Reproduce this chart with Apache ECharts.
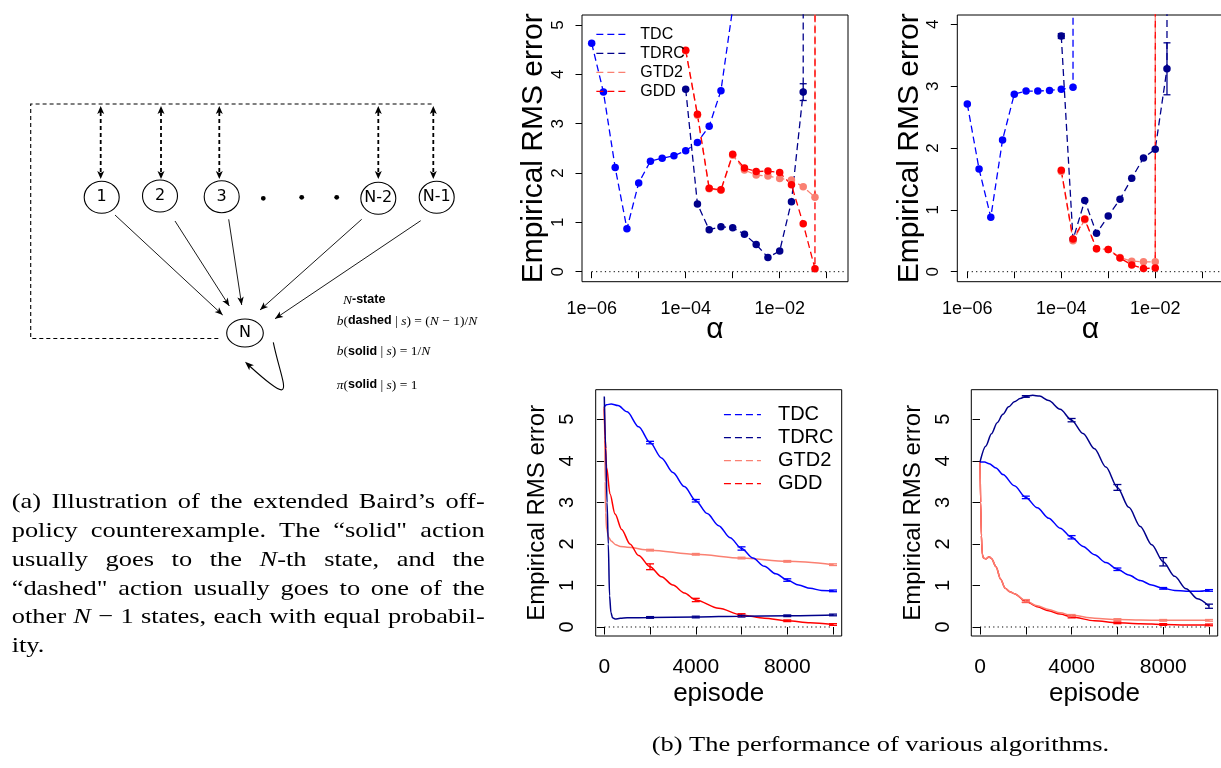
<!DOCTYPE html>
<html>
<head>
<meta charset="utf-8">
<script src="https://cdn.jsdelivr.net/npm/echarts@6/dist/echarts.min.js"></script>
<style>
html, body { margin: 0; padding: 0; background: #fff; }
#main { width: 1221px; height: 768px; }
</style>
</head>
<body>
<div id="main"></div>
<script>
// ---- data ----
// top panels: x is log10(alpha)
var tlTdcA = [-6, -5.75, -5.5, -5.25, -5, -4.75, -4.5, -4.25, -4, -3.75, -3.5, -3.25, -3];
var tlTdc = [4.63, 3.64, 2.11, 0.87, 1.80, 2.24, 2.30, 2.35, 2.45, 2.62, 2.95, 3.67, 5.34];
var tlTdrcA = [-4, -3.75, -3.5, -3.25, -3, -2.75, -2.5, -2.25, -2, -1.75, -1.5, -1.25];
var tlTdrc = [3.70, 1.37, 0.85, 0.91, 0.89, 0.76, 0.55, 0.29, 0.42, 1.42, 3.64, 1000];
var tlGradA = [-4, -3.75, -3.5, -3.25, -3, -2.75, -2.5, -2.25, -2, -1.75, -1.5, -1.25, -1];
var tlGtd2 = [4.48, 3.17, 1.68, 1.65, 2.36, 2.06, 1.96, 1.94, 1.89, 1.86, 1.72, 1.51, 1000];
var tlGdd = [4.49, 3.19, 1.69, 1.66, 2.38, 2.10, 2.03, 2.04, 2.01, 1.76, 0.97, 0.06, 1000];
var tlErrA = [-1.5];
var tlErrTdrc = [0.17];

var trTdcA = [-6, -5.75, -5.5, -5.25, -5, -4.75, -4.5, -4.25, -4, -3.75, -3.5];
var trTdc = [2.71, 1.66, 0.88, 2.13, 2.87, 2.92, 2.92, 2.93, 2.95, 2.98, 1000];
var trTdrcA = [-4, -3.75, -3.5, -3.25, -3, -2.75, -2.5, -2.25, -2, -1.75, -1.5];
var trTdrc = [3.81, 0.52, 1.15, 0.62, 0.90, 1.17, 1.51, 1.84, 1.98, 3.28, 1000];
var trGradA = [-4, -3.75, -3.5, -3.25, -3, -2.75, -2.5, -2.25, -2, -1.75];
var trGtd2 = [1.62, 0.50, 0.84, 0.37, 0.36, 0.23, 0.17, 0.16, 0.16, 1000];
var trGdd = [1.64, 0.53, 0.85, 0.37, 0.36, 0.22, 0.11, 0.05, 0.06, 1000];
var trErrA = [-4, -1.75];
var trErrTdrc = [0.04, 0.42];

var zeroTop = [-6, -0.6];
var alphaTicks = [-6, -1, 1];

// bottom panels: x is episode
var blTdcEp = [0, 100, 300, 600, 1000, 1500, 2000, 2500, 3000, 3500, 4000, 4500, 5000, 5500, 6000, 6500, 7000, 7500, 8000, 8500, 9000, 9500, 10000];
var blTdc = [5.30, 5.35, 5.37, 5.33, 5.18, 4.82, 4.44, 4.07, 3.72, 3.38, 3.04, 2.73, 2.44, 2.15, 1.89, 1.66, 1.46, 1.28, 1.13, 1.01, 0.93, 0.88, 0.87];
var blTdrcEp = [0, 60, 120, 175, 230, 290, 360, 470, 700, 1000, 2000, 4000, 6000, 8000, 10000];
var blTdrc = [5.55, 4.30, 3.00, 2.00, 0.75, 0.35, 0.22, 0.19, 0.21, 0.22, 0.23, 0.24, 0.26, 0.27, 0.29];
var blGtd2Ep = [0, 20, 40, 60, 100, 200, 300, 500, 700, 1000, 2000, 4000, 6000, 8000, 10000];
var blGtd2 = [5.25, 4.50, 3.50, 2.75, 2.35, 2.15, 2.07, 1.98, 1.94, 1.92, 1.85, 1.75, 1.66, 1.58, 1.50];
var blGddEp = [0, 30, 100, 250, 470, 760, 1120, 1500, 2000, 2500, 3000, 3500, 4000, 5000, 6000, 7000, 8000, 9000, 10000];
var blGdd = [5.30, 4.60, 3.85, 3.20, 2.72, 2.35, 2.00, 1.72, 1.45, 1.21, 1.01, 0.82, 0.65, 0.45, 0.29, 0.21, 0.15, 0.10, 0.06];

var brTdrcEp = [0, 250, 500, 750, 1000, 1250, 1500, 1750, 2000, 2300, 2600, 3000, 3500, 4000, 4500, 5000, 5500, 6000, 6500, 7000, 7500, 8000, 8500, 9000, 9500, 10000];
var brTdrc = [3.97, 4.35, 4.65, 4.92, 5.12, 5.30, 5.42, 5.50, 5.55, 5.58, 5.56, 5.45, 5.24, 4.98, 4.66, 4.29, 3.85, 3.36, 2.88, 2.42, 1.98, 1.57, 1.22, 0.92, 0.68, 0.50];
var brTdcEp = [0, 200, 400, 700, 1000, 1500, 2000, 2500, 3000, 3500, 4000, 4500, 5000, 5500, 6000, 6500, 7000, 7500, 8000, 8500, 9000, 9500, 10000];
var brTdc = [3.97, 3.97, 3.93, 3.83, 3.67, 3.40, 3.12, 2.87, 2.62, 2.38, 2.16, 1.94, 1.74, 1.55, 1.39, 1.25, 1.12, 1.01, 0.93, 0.88, 0.86, 0.86, 0.88];
var brGradEp = [0, 30, 60, 100, 150, 250, 400, 500, 700, 900, 1100, 1300, 1500, 2000, 2500, 3000, 3500, 4000, 5000, 6000, 7000, 8000, 9000, 10000];
var brGtd2 = [3.97, 3.00, 2.20, 1.75, 1.66, 1.64, 1.69, 1.65, 1.45, 1.15, 0.93, 0.85, 0.80, 0.63, 0.51, 0.42, 0.34, 0.28, 0.21, 0.18, 0.17, 0.16, 0.16, 0.16];
var brGdd = [3.97, 3.00, 2.20, 1.75, 1.66, 1.64, 1.69, 1.65, 1.45, 1.15, 0.93, 0.85, 0.80, 0.62, 0.49, 0.39, 0.31, 0.24, 0.15, 0.10, 0.08, 0.06, 0.05, 0.05];

var errEp = [2000, 4000, 6000, 8000, 10000];
var blErrTdc = [0.03, 0.03, 0.04, 0.03, 0.02];
var blErrTdrc = [0.02, 0.02, 0.02, 0.02, 0.02];
var blErrGtd2 = [0.02, 0.02, 0.02, 0.02, 0.02];
var blErrGdd = [0.07, 0.04, 0.03, 0.02, 0.02];
var brErrTdc = [0.03, 0.04, 0.03, 0.02, 0.02];
var brErrTdrc = [0.02, 0.04, 0.07, 0.10, 0.05];
var brErrGtd2 = [0.03, 0.02, 0.02, 0.02, 0.02];
var brErrGdd = [0.03, 0.02, 0.02, 0.02, 0.02];

var zeroBottom = [0, 10000];
var episodeTicks = [0, 10000, 2000];

var names = ['TDC', 'TDRC', 'GTD2', 'GDD'];
var colors = { TDC: '#0000FF', TDRC: '#00008B', GTD2: '#FA8072', GDD: '#FF0000' };

var FONT = 'Liberation Sans';
var SERIF = 'Liberation Serif';

// ---- helpers ----
function pairs(xs, ys) {
	return xs.map(function(x, i) { return [x, ys[i]]; });
}

function dotSeries(name, ax, xs, ys) {
	return {
		name: name, type: 'line', xAxisIndex: ax, yAxisIndex: ax,
		data: pairs(xs, ys), clip: true,
		symbol: 'circle', symbolSize: 7.5,
		itemStyle: { color: colors[name], borderWidth: 0 },
		lineStyle: { color: colors[name], width: 1.3, type: [7, 4] },
		emphasis: { disabled: true }, z: 3
	};
}

function curveSeries(name, ax, xs, ys) {
	return {
		name: name, type: 'line', xAxisIndex: ax, yAxisIndex: ax,
		data: pairs(xs, ys), clip: true, smooth: 0.3, smoothMonotone: 'x',
		symbol: 'none',
		itemStyle: { color: colors[name] },
		lineStyle: { color: colors[name], width: 1.5 },
		emphasis: { disabled: true }, z: 3
	};
}

function zeroSeries(ax, xs) {
	return {
		type: 'line', xAxisIndex: ax, yAxisIndex: ax, symbol: 'none', silent: true,
		data: pairs(xs, [0, 0]),
		lineStyle: { color: '#000', width: 1, type: [1.2, 3.2] }, z: 2
	};
}

// error bars, centred on the curve value at that x
function errSeries(name, ax, curveX, curveY, xs, half, cap) {
	var col = colors[name];
	return {
		type: 'custom', xAxisIndex: ax, yAxisIndex: ax, silent: true, z: 4,
		data: xs.map(function(x, i) {
			var m = curveY[curveX.indexOf(x)];
			return [x, m - half[i], m + half[i]];
		}),
		renderItem: function(params, api) {
			var lo = api.coord([api.value(0), api.value(1)]);
			var hi = api.coord([api.value(0), api.value(2)]);
			var st = { stroke: col, lineWidth: 1.3, fill: null };
			return {
				type: 'group',
				children: [
					{ type: 'line', shape: { x1: lo[0], y1: lo[1], x2: hi[0], y2: hi[1] }, style: st },
					{ type: 'line', shape: { x1: lo[0] - cap, y1: lo[1], x2: lo[0] + cap, y2: lo[1] }, style: st },
					{ type: 'line', shape: { x1: hi[0] - cap, y1: hi[1], x2: hi[0] + cap, y2: hi[1] }, style: st }
				]
			};
		}
	};
}

function fmtAlpha(v) {
	if (Math.round(v) % 2 !== 0) return '';
	return '1e\u22120' + Math.abs(Math.round(v));
}
function fmtEp(v) {
	return v % 4000 === 0 ? String(v) : '';
}

// ---- panel layout (pixels) ----
var panels = [
	{ box: [582, 15, 266, 266.7], xr: [-6.206, -0.547], yr: [-0.203, 5.203],
	  car: [591.7, 25, 235, 246.7], xt: alphaTicks, yt: [0, 5, 1],
	  xName: 'α', xNameGap: 33, xNameSize: 30, yNameSize: 30, yNameGap: 33,
	  xFmt: fmtAlpha, xLab: 18, xMargin: 18, yLab: 17, yMargin: 15, tick: 6.5 },
	{ box: [957.3, 15, 266.2, 266.7], xr: [-6.213, -0.547], yr: [-0.162, 4.15],
	  car: [967.3, 24.3, 235, 247.4], xt: alphaTicks, yt: [0, 4, 1],
	  xName: 'α', xNameGap: 33, xNameSize: 30, yNameSize: 30, yNameGap: 33,
	  xFmt: fmtAlpha, xLab: 18, xMargin: 18, yLab: 17, yMargin: 15, tick: 6.5 },
	{ box: [595.7, 389.7, 246, 246.3], xr: [-376, 10380], yr: [-0.217, 5.713],
	  car: [604.3, 419.3, 228.7, 207.7], xt: episodeTicks, yt: [0, 5, 1],
	  xName: 'episode', xNameGap: 45, xNameSize: 26, yNameSize: 24, yNameGap: 46,
	  xFmt: fmtEp, xLab: 21, xMargin: 21, yLab: 20, yMargin: 18, tick: 7.5 },
	{ box: [971.3, 389.7, 246.4, 246.3], xr: [-380, 10380], yr: [-0.217, 5.713],
	  car: [980, 419.3, 229, 207.7], xt: episodeTicks, yt: [0, 5, 1],
	  xName: 'episode', xNameGap: 45, xNameSize: 26, yNameSize: 24, yNameGap: 46,
	  xFmt: fmtEp, xLab: 21, xMargin: 21, yLab: 20, yMargin: 18, tick: 7.5 }
];

var option = {
	animation: false,
	backgroundColor: '#fff',
	textStyle: { fontFamily: FONT, color: '#000' },
	grid: [], xAxis: [], yAxis: [], series: []
};

panels.forEach(function(p, k) {
	var gb = 2 * k, gc = 2 * k + 1;
	option.grid.push({ left: p.box[0], top: p.box[1], width: p.box[2], height: p.box[3],
		show: true, borderColor: '#000', borderWidth: 1, backgroundColor: 'transparent',
		containLabel: false, outerBoundsMode: 'none' });
	option.grid.push({ left: p.car[0], top: p.car[1], width: p.car[2], height: p.car[3],
		show: false, containLabel: false, outerBoundsMode: 'none' });
	var offX = (p.box[1] + p.box[3]) - (p.car[1] + p.car[3]);
	var offY = p.car[0] - p.box[0];
	var hidden = { axisLine: { show: false }, axisTick: { show: false }, axisLabel: { show: false }, splitLine: { show: false } };
	option.xAxis.push(Object.assign({ gridIndex: gb, type: 'value', min: p.xr[0], max: p.xr[1],
		name: p.xName, nameLocation: 'middle', nameGap: p.xNameGap,
		nameTextStyle: { fontSize: p.xNameSize, color: '#000', fontFamily: FONT } }, hidden));
	option.yAxis.push(Object.assign({ gridIndex: gb, type: 'value', min: p.yr[0], max: p.yr[1],
		name: 'Empirical RMS error', nameLocation: 'middle', nameGap: p.yNameGap,
		nameTextStyle: { fontSize: p.yNameSize, color: '#000', fontFamily: FONT } }, hidden));
	option.xAxis.push({ gridIndex: gc, type: 'value', min: p.xt[0], max: p.xt[1], interval: p.xt[2],
		position: 'bottom', offset: offX,
		axisLine: { show: false },
		axisTick: { show: true, inside: false, length: p.tick, lineStyle: { color: '#000', width: 1 } },
		axisLabel: { formatter: p.xFmt, fontSize: p.xLab, margin: p.xMargin, color: '#000', fontFamily: FONT },
		splitLine: { show: false } });
	option.yAxis.push({ gridIndex: gc, type: 'value', min: p.yt[0], max: p.yt[1], interval: p.yt[2],
		position: 'left', offset: offY,
		axisLine: { show: false },
		axisTick: { show: true, inside: false, length: p.tick, lineStyle: { color: '#000', width: 1 } },
		axisLabel: { rotate: 90, fontSize: p.yLab, margin: p.yMargin, color: '#000', fontFamily: FONT },
		splitLine: { show: false } });
});

// top-left
option.series.push(
	zeroSeries(0, zeroTop),
	dotSeries('TDC', 0, tlTdcA, tlTdc),
	dotSeries('TDRC', 0, tlTdrcA, tlTdrc),
	dotSeries('GTD2', 0, tlGradA, tlGtd2),
	dotSeries('GDD', 0, tlGradA, tlGdd),
	errSeries('TDRC', 0, tlTdrcA, tlTdrc, tlErrA, tlErrTdrc, 3.5)
);
// top-right
option.series.push(
	zeroSeries(2, zeroTop),
	dotSeries('TDC', 2, trTdcA, trTdc),
	dotSeries('TDRC', 2, trTdrcA, trTdrc),
	dotSeries('GTD2', 2, trGradA, trGtd2),
	dotSeries('GDD', 2, trGradA, trGdd),
	errSeries('TDRC', 2, trTdrcA, trTdrc, trErrA, trErrTdrc, 3.5)
);
// bottom-left
option.series.push(
	zeroSeries(4, zeroBottom),
	curveSeries('GTD2', 4, blGtd2Ep, blGtd2),
	curveSeries('GDD', 4, blGddEp, blGdd),
	curveSeries('TDC', 4, blTdcEp, blTdc),
	curveSeries('TDRC', 4, blTdrcEp, blTdrc),
	errSeries('GTD2', 4, blGtd2Ep, blGtd2, errEp, blErrGtd2, 4),
	errSeries('GDD', 4, blGddEp, blGdd, errEp, blErrGdd, 4),
	errSeries('TDC', 4, blTdcEp, blTdc, errEp, blErrTdc, 4),
	errSeries('TDRC', 4, blTdrcEp, blTdrc, errEp, blErrTdrc, 4)
);
// bottom-right
option.series.push(
	zeroSeries(6, zeroBottom),
	curveSeries('GDD', 6, brGradEp, brGdd),
	curveSeries('GTD2', 6, brGradEp, brGtd2),
	curveSeries('TDC', 6, brTdcEp, brTdc),
	curveSeries('TDRC', 6, brTdrcEp, brTdrc),
	errSeries('GDD', 6, brGradEp, brGdd, errEp, brErrGdd, 4),
	errSeries('GTD2', 6, brGradEp, brGtd2, errEp, brErrGtd2, 4),
	errSeries('TDC', 6, brTdcEp, brTdc, errEp, brErrTdc, 4),
	errSeries('TDRC', 6, brTdrcEp, brTdrc, errEp, brErrTdrc, 4)
);

function legendAt(left, top, w, size, pad) {
	return {
		data: names, orient: 'vertical', left: left, top: top, padding: 0,
		itemWidth: w, itemHeight: 12, itemGap: 3, selectedMode: false,
		itemStyle: { opacity: 0, borderWidth: 0 },
		lineStyle: { width: 1.3, type: [7, 4] },
		textStyle: { fontSize: size, color: '#000', fontFamily: FONT, padding: [0, 0, 0, pad] }
	};
}
option.legend = [legendAt(595.7, 26.3, 31, 16, 8), legendAt(723.3, 404.7, 37, 20, 12)];

// ---- left illustration (a) ----
var g = [];
function arrowHead(x0, y0, x1, y1, len, hw) {
	var dx = x1 - x0, dy = y1 - y0, d = Math.sqrt(dx * dx + dy * dy);
	var ux = dx / d, uy = dy / d;
	var bx = x1 - ux * len, by = y1 - uy * len;
	return { type: 'polygon', shape: { points: [[x1, y1], [bx - uy * hw, by + ux * hw], [bx + ux * len * 0.25, by + uy * len * 0.25], [bx + uy * hw, by - ux * hw]] },
		style: { fill: '#000' } };
}
g.push({ type: 'polyline', shape: { points: [[218.3, 338.5], [30.7, 338.5], [30.7, 104], [432.7, 104]] },
	style: { stroke: '#000', lineWidth: 1.1, lineDash: [4, 3], fill: null } });
[100.7, 161, 219.3, 378.3, 433.3].forEach(function(x) {
	g.push({ type: 'line', shape: { x1: x, y1: 112, x2: x, y2: 172 }, style: { stroke: '#000', lineWidth: 1.8, lineDash: [4, 3] } });
	g.push(arrowHead(x, 120, x, 106, 8, 3.5));
	g.push(arrowHead(x, 165, x, 179, 8, 3.5));
});
var nodes = [[101.7, 197.3, '1'], [160, 196, '2'], [221.7, 196.7, '3'], [378.3, 198.3, 'N-2'], [436.7, 197.3, 'N-1']];
nodes.forEach(function(n) {
	g.push({ type: 'ellipse', shape: { cx: n[0], cy: n[1], rx: 17.5, ry: 16 }, style: { stroke: '#000', lineWidth: 1.1, fill: '#fff' } });
	g.push({ type: 'text', x: n[0], y: n[1], style: { text: n[2], font: '16px "DejaVu Sans"', fill: '#000', align: 'center', verticalAlign: 'middle' } });
});
g.push({ type: 'ellipse', shape: { cx: 245, cy: 333, rx: 18.3, ry: 14 }, style: { stroke: '#000', lineWidth: 1.1, fill: '#fff' } });
g.push({ type: 'text', x: 245, y: 333, style: { text: 'N', font: '16px "DejaVu Sans"', fill: '#000', align: 'center', verticalAlign: 'middle' } });
[[263.3, 198.3], [301.7, 197.3], [336.7, 197.3]].forEach(function(c) {
	g.push({ type: 'circle', shape: { cx: c[0], cy: c[1], r: 2.4 }, style: { fill: '#000' } });
});
[[115, 215, 222.7, 315], [175, 221, 229.3, 306], [228.7, 219.3, 241.7, 305], [361.7, 219.3, 260, 310], [420.7, 220.7, 275, 318.7]].forEach(function(a) {
	g.push({ type: 'line', shape: { x1: a[0], y1: a[1], x2: a[2], y2: a[3] }, style: { stroke: '#000', lineWidth: 0.9 } });
	g.push(arrowHead(a[0], a[1], a[2], a[3], 8, 3.2));
});
g.push({ type: 'bezierCurve', shape: { x1: 273.3, y1: 342.3, cpx1: 282, cpy1: 385, cpx2: 300, cpy2: 412, x2: 249, y2: 365.5 },
	style: { stroke: '#000', lineWidth: 1.1, fill: null } });
g.push(arrowHead(300, 412, 245, 361.7, 9, 3.5));

var mathRich = {
	r: { fontFamily: SERIF, fontSize: 13.5, fill: '#000' },
	m: { fontFamily: SERIF, fontSize: 13.5, fontStyle: 'italic', fill: '#000' },
	b: { fontFamily: FONT, fontSize: 12.5, fontWeight: 'bold', fill: '#000' }
};
[[343, 300, '{m|N}{b|-state}'],
 [336.7, 321, '{m|b}{r|(}{b|dashed}{r| | }{m|s}{r|) = (}{m|N}{r| \u2212 1)/}{m|N}'],
 [336.7, 351.7, '{m|b}{r|(}{b|solid}{r| | }{m|s}{r|) = 1/}{m|N}'],
 [336.7, 385, '{m|\u03c0}{r|(}{b|solid}{r| | }{m|s}{r|) = 1}']].forEach(function(t) {
	g.push({ type: 'text', x: t[0], y: t[1], style: { text: t[2], rich: mathRich, align: 'left', verticalAlign: 'middle' } });
});

// ---- captions (justified, slightly widened serif to mimic Computer Modern) ----
var CAP_SIZE = 22, SX = 1.2;
var capRich = {
	n: { fontFamily: SERIF, fontSize: CAP_SIZE, fill: '#000' },
	i: { fontFamily: SERIF, fontSize: CAP_SIZE, fontStyle: 'italic', fill: '#000' }
};
var mctx = document.createElement('canvas').getContext('2d');
function partsOf(w) {
	return w.split('*').map(function(t, i) { return { t: t, it: i % 2 === 1 }; }).filter(function(p) { return p.t; });
}
function widthOf(parts) {
	var s = 0;
	parts.forEach(function(p) {
		mctx.font = (p.it ? 'italic ' : '') + CAP_SIZE + 'px "' + SERIF + '"';
		s += mctx.measureText(p.t).width;
	});
	return s * SX;
}
function captionLine(str, x, y, width, justify) {
	var words = str.split(' ').filter(function(w) { return w; });
	var parts = words.map(partsOf);
	var ws = parts.map(widthOf);
	var tot = ws.reduce(function(a, b) { return a + b; }, 0);
	mctx.font = CAP_SIZE + 'px "' + SERIF + '"';
	var gap = justify ? (width - tot) / (words.length - 1) : mctx.measureText(' ').width * SX;
	var cx = x;
	parts.forEach(function(ps, i) {
		var txt = ps.map(function(p) { return '{' + (p.it ? 'i' : 'n') + '|' + p.t + '}'; }).join('');
		g.push({ type: 'text', x: cx, y: y, scaleX: SX, style: { text: txt, rich: capRich, align: 'left', verticalAlign: 'middle' } });
		cx += ws[i] + gap;
	});
}
var capA = [
	'(a) Illustration of the extended Baird\u2019s off-',
	'policy counterexample. The \u201csolid" action',
	'usually goes to the *N*-th state, and the',
	'\u201cdashed" action usually goes to one of the',
	'other *N* \u2212 1 states, each with equal probabil-',
	'ity.'
];
capA.forEach(function(l, i) {
	captionLine(l, 11.7, 502.5 + i * 28.8, 473, i < capA.length - 1);
});
captionLine('(b) The performance of various algorithms.', 651.7, 745, 0, false);

option.graphic = { elements: g };

var chart = echarts.init(document.getElementById('main'));
chart.setOption(option);
</script>
</body>
</html>
